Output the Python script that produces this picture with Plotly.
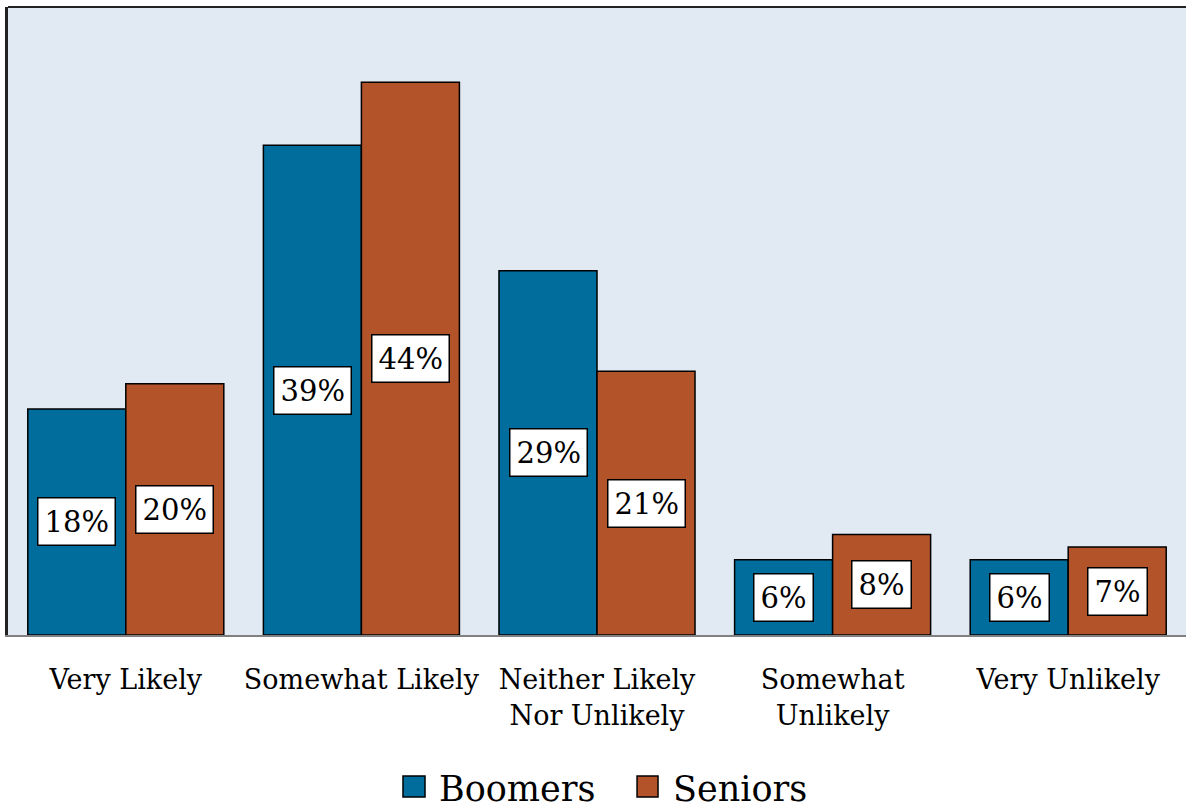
import plotly.graph_objects as go

categories = ["Very Likely", "Somewhat Likely", "Neither Likely<br>Nor Unlikely",
              "Somewhat<br>Unlikely", "Very Unlikely"]
boomers = [18, 39, 29, 6, 6]
seniors = [20, 44, 21, 8, 7]
series_names = ["Boomers", "Seniors"]

BLUE = "#006D9C"
RUST = "#B3532A"
FONT = "DejaVu Serif"

fig = go.Figure()
fig.add_bar(name=series_names[0], x=categories, y=boomers, marker_color=BLUE,
            marker_line=dict(color="black", width=1.5), showlegend=False)
fig.add_bar(name=series_names[1], x=categories, y=seniors, marker_color=RUST,
            marker_line=dict(color="black", width=1.5), showlegend=False)

# value labels in white boxes, centred in each bar
for series, shift in ((boomers, -49), (seniors, 49)):
    for cat, v in zip(categories, series):
        fig.add_annotation(x=cat, y=v / 2, text=f"{v}%", showarrow=False,
                           xshift=shift, font=dict(family=FONT, size=29, color="black"),
                           bgcolor="white", bordercolor="black", borderwidth=1.5,
                           borderpad=6)

# legend drawn as large swatches with text beside them
legend_items = [(series_names[0], BLUE, 0.3353, 0.354, 0.3642),
                (series_names[1], RUST, 0.534, 0.5518, 0.5628)]
for name, color, x0, x1, xt in legend_items:
    fig.add_shape(type="rect", xref="paper", yref="paper", x0=x0, x1=x1,
                  y0=-0.258, y1=-0.2245, fillcolor=color,
                  line=dict(color="black", width=1.5))
    fig.add_annotation(xref="paper", yref="paper", x=xt, y=-0.245, text=name,
                       showarrow=False, xanchor="left", yanchor="middle",
                       font=dict(family=FONT, size=35, color="black"))

fig.update_layout(
    width=1186, height=808,
    margin=dict(l=8, r=0, t=7, b=173, autoexpand=False),
    paper_bgcolor="white", plot_bgcolor="#E1E9F3",
    barmode="group", bargap=0.168, bargroupgap=0,
    font=dict(family=FONT, size=27, color="black"),
    showlegend=False,
    xaxis=dict(showgrid=False, ticks="outside", ticklen=20, tickcolor="rgba(0,0,0,0)",
               showline=True, linecolor="#808080", linewidth=2, automargin=False),
    yaxis=dict(range=[0, 50], showgrid=False, showticklabels=False, zeroline=False,
               showline=True, linecolor="#222222", linewidth=3, automargin=False),
)
fig.add_shape(type="line", xref="paper", yref="paper", x0=0, x1=1, y0=1, y1=1,
              line=dict(color="#222222", width=2))

fig.write_html("out.html")
